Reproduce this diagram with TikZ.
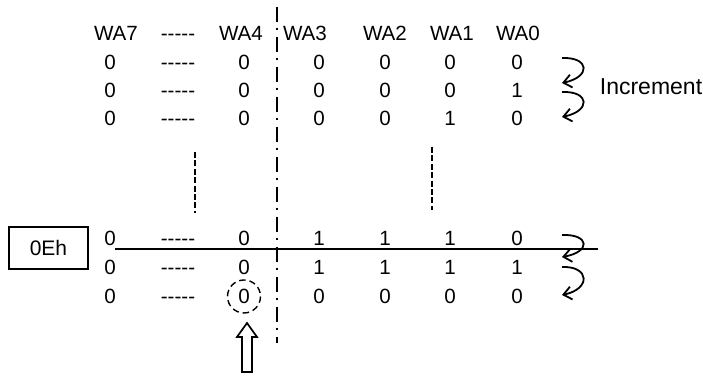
\documentclass[tikz,border=0pt]{standalone}
\usepackage{fontspec}
\setmainfont{Liberation Sans}
\usetikzlibrary{arrows.meta}
\newcommand{\fivedash}{{-}{-}{-}{-}{-}}
\begin{document}
\begin{tikzpicture}[x=0.5pt,y=-0.5pt,
  cell/.style={inner sep=0pt, text height=7.34pt, text depth=0pt, font=\fontsize{10.3}{12}\selectfont},
  incr/.style={line width=0.9pt, -{Straight Barb[length=4pt,width=6.5pt,line width=0.9pt]}},
  vdots/.style={line width=0.65pt, dash pattern=on 3pt off 1.2pt},
  axis/.style={line width=0.85pt, dash pattern=on 7.5pt off 3pt on 1pt off 3.5pt}]
\useasboundingbox (0,0) rectangle (703,383);

% header
\node[cell] (h7) at (116,33.5) {WA7};
\node[cell] (hd) at (178,33.5) {\fivedash};
\node[cell] (h4) at (241,33.5) {WA4};
\node[cell] (h3) at (305,33.5) {WA3};
\node[cell] (h2) at (385,33.5) {WA2};
\node[cell] (h1) at (452,33.5) {WA1};
\node[cell] (h0) at (518,33.5) {WA0};

% rows
\foreach \r/\y/\a/\b/\c/\d/\e/\f in {1/62/0/0/0/0/0/0, 2/90/0/0/0/0/0/1, 3/118.5/0/0/0/0/1/0,
    A/238.5/0/0/1/1/1/0, B/267.5/0/0/1/1/1/1, C/296.5/0/0/0/0/0/0}{
  \node[cell] (r\r c7) at (110,\y) {\a};
  \node[cell] (r\r d)  at (178,\y) {\fivedash};
  \node[cell] (r\r c4) at (244,\y) {\b};
  \node[cell] (r\r c3) at (319,\y) {\c};
  \node[cell] (r\r c2) at (385,\y) {\d};
  \node[cell] (r\r c1) at (450,\y) {\e};
  \node[cell] (r\r c0) at (517,\y) {\f};
}

% dash-dot separator
\coordinate (axt) at (277,6.7);
\coordinate (axb) at (277,343);
\draw[axis] (axt) -- (axb);

% vertical dotted continuation lines
\coordinate (v1t) at (195,152);
\coordinate (v1b) at (195,213);
\coordinate (v2t) at (432,147);
\coordinate (v2b) at (432,210);
\draw[vdots] (v1t) -- (v1b);
\draw[vdots] (v2t) -- (v2b);

% box
\node[draw, line width=0.85pt, minimum width=39.5pt, minimum height=21pt, inner sep=0pt,
  font=\fontsize{10.5}{12}\selectfont] (box) at (48.5,248) {0Eh};

% horizontal line
\coordinate (hl) at (115,249);
\coordinate (hr) at (598,249);
\draw[line width=0.9pt] (hl) -- (hr);

% increment arrows
\coordinate (a1s) at (562,58);  \coordinate (a1e) at (562,83);
\coordinate (a2s) at (562,92);  \coordinate (a2e) at (562,117);
\coordinate (a3s) at (562,235); \coordinate (a3e) at (562,257);
\coordinate (a4s) at (562,267); \coordinate (a4e) at (562,295);
\draw[incr] (a1s) .. controls (590,57) and (591,77) .. (a1e);
\draw[incr] (a2s) .. controls (590,91) and (591,111) .. (a2e);
\draw[incr] (a3s) .. controls (590,234) and (591,252) .. (a3e);
\draw[incr] (a4s) .. controls (590,266) and (591,289) .. (a4e);

\node[inner sep=0pt, anchor=west, text height=8.23pt, text depth=0pt,
  font=\fontsize{11.5}{13}\selectfont] (inc) at (599.5,86.5) {Increment};

% dashed circle around the carry bit
\draw[line width=0.7pt, dash pattern=on 3.2pt off 2pt] (rCc4) circle[radius=16.5];

% hollow up arrow
\draw[line width=0.85pt] (247,323) -- (257,337) -- (252,337) -- (252,372) -- (242,372) -- (242,337) -- (237,337) -- cycle;
\end{tikzpicture}
\end{document}
